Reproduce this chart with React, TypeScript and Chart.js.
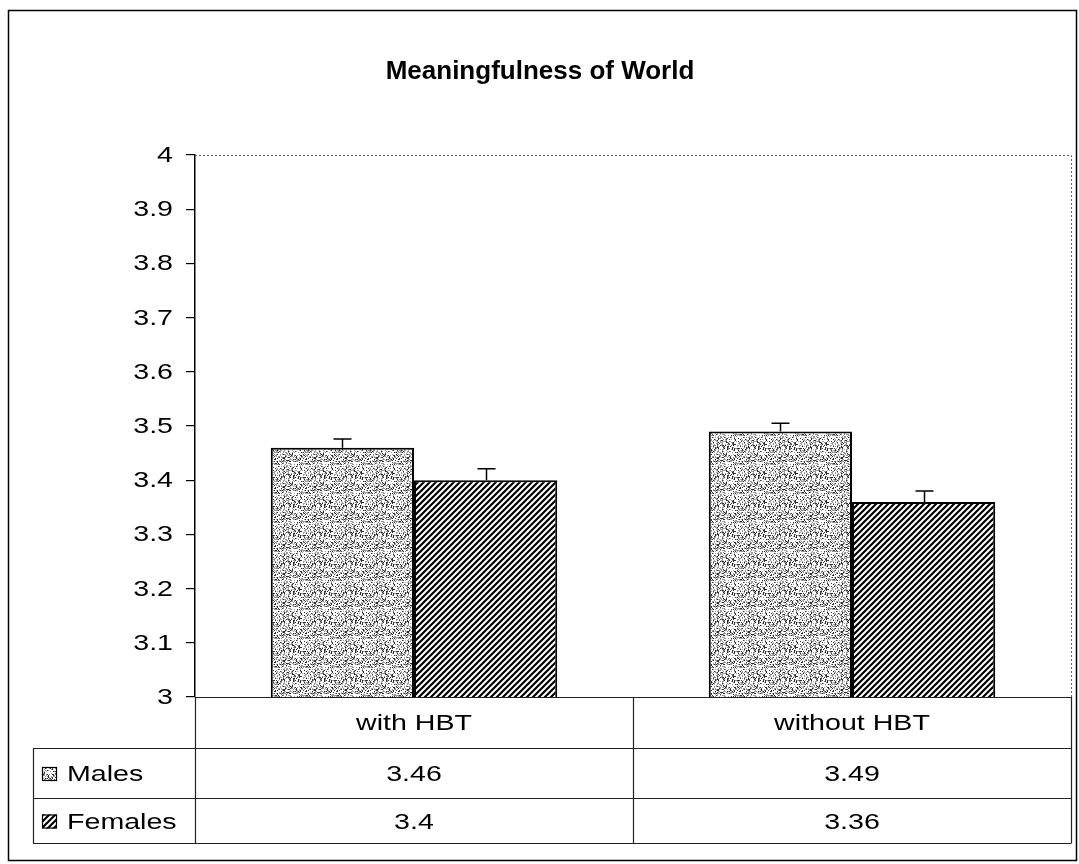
import React, { useEffect, useRef } from "react";
import { Chart, registerables } from "chart.js";

Chart.register(...registerables);

const chartTitle = "Meaningfulness of World";
const categories = ["with HBT", "without HBT"];
const seriesLabels = ["Males", "Females"];
const malesValues = [3.46, 3.49];
const femalesValues = [3.4, 3.36];
const malesErrors = [0.016, 0.015];
const femalesErrors = [0.021, 0.02];
const malesTableLabels = ["3.46", "3.49"];
const femalesTableLabels = ["3.4", "3.36"];
const yMin = 3;
const yMax = 4;
const yStep = 0.1;

const FONT = "Arial, 'Liberation Sans', sans-serif";
const TEXT_SIZE = 22;
const TEXT_STRETCH = 1.3;

function makeStipple(): CanvasPattern | string {
  const w = 31;
  const h = 29;
  const c = document.createElement("canvas");
  c.width = w;
  c.height = h;
  const g = c.getContext("2d");
  if (!g) return "#c0c0c0";
  g.fillStyle = "#ffffff";
  g.fillRect(0, 0, w, h);
  for (let y = 0; y < h; y++) {
    for (let x = 0; x < w; x++) {
      let k = (x * 374761393 + y * 668265263) | 0;
      k = Math.imul(k ^ (k >>> 13), 1274126177);
      k = (k ^ (k >>> 16)) >>> 0;
      const r = k % 100;
      if (r < 15) {
        g.fillStyle = "#303030";
        g.fillRect(x, y, 1, 1);
      } else if (r < 40) {
        g.fillStyle = "#9a9a9a";
        g.fillRect(x, y, 1, 1);
      }
    }
  }
  return g.createPattern(c, "repeat") || "#c0c0c0";
}

function makeHatch(): CanvasPattern | string {
  const s = 6;
  const c = document.createElement("canvas");
  c.width = s;
  c.height = s;
  const g = c.getContext("2d");
  if (!g) return "#777";
  g.fillStyle = "#ffffff";
  g.fillRect(0, 0, s, s);
  g.strokeStyle = "#000000";
  g.lineWidth = 2.2;
  g.beginPath();
  g.moveTo(-1, s + 1);
  g.lineTo(s + 1, -1);
  g.moveTo(-s / 2 - 1, s / 2 + 1);
  g.lineTo(s / 2 + 1, -s / 2 - 1);
  g.moveTo(s / 2 - 1, s * 1.5 + 1);
  g.lineTo(s * 1.5 + 1, s / 2 - 1);
  g.stroke();
  return g.createPattern(c, "repeat") || "#777";
}

function stretchedText(
  ctx: CanvasRenderingContext2D,
  text: string,
  x: number,
  y: number,
  align: CanvasTextAlign
) {
  ctx.save();
  ctx.translate(x, y);
  ctx.scale(TEXT_STRETCH, 1);
  ctx.textAlign = align;
  ctx.textBaseline = "middle";
  ctx.fillText(text, 0, 0);
  ctx.restore();
}

function fmtTick(v: number): string {
  const s = v.toFixed(1);
  return s.endsWith(".0") ? String(Math.round(v)) : s;
}

export default function App() {
  const ref = useRef<HTMLCanvasElement | null>(null);

  useEffect(() => {
    const canvas = ref.current;
    if (!canvas) return;
    const stipple = makeStipple();
    const hatch = makeHatch();
    const fills = [stipple, hatch];
    const errors = [malesErrors, femalesErrors];
    const tableLabels = [malesTableLabels, femalesTableLabels];

    const decor = {
      id: "decor",
      afterDraw(chart: any) {
        const ctx = chart.ctx as CanvasRenderingContext2D;
        const area = chart.chartArea;
        const ys = chart.scales.y;
        const xs = chart.scales.x;
        ctx.save();

        // outer frame
        ctx.strokeStyle = "#000";
        ctx.lineWidth = 1.5;
        ctx.strokeRect(8.5, 10.5, 1068, 850);

        // title
        ctx.fillStyle = "#000";
        ctx.font = `bold 26px ${FONT}`;
        ctx.textAlign = "center";
        ctx.textBaseline = "middle";
        ctx.fillText(chartTitle, 540, 72);

        // y tick labels
        ctx.font = `${TEXT_SIZE}px ${FONT}`;
        ys.ticks.forEach((t: any) => {
          const y = ys.getPixelForValue(t.value);
          stretchedText(ctx, fmtTick(Number(t.value)), 173, y + 1, "right");
        });

        // plot area dotted top / right border
        ctx.strokeStyle = "#666";
        ctx.lineWidth = 1;
        ctx.setLineDash([2, 2]);
        ctx.beginPath();
        ctx.moveTo(area.left, area.top + 0.5);
        ctx.lineTo(area.right + 0.5, area.top + 0.5);
        ctx.lineTo(area.right + 0.5, area.bottom);
        ctx.stroke();
        ctx.setLineDash([]);

        // error bars
        ctx.strokeStyle = "#000";
        ctx.lineWidth = 1.5;
        for (let d = 0; d < 2; d++) {
          const meta = chart.getDatasetMeta(d);
          meta.data.forEach((bar: any, i: number) => {
            const v = chart.data.datasets[d].data[i] as number;
            const yTop = ys.getPixelForValue(v + errors[d][i]);
            const x = Math.round(bar.x) + 0.5;
            ctx.beginPath();
            ctx.moveTo(x, bar.y);
            ctx.lineTo(x, yTop);
            ctx.moveTo(x - 9, yTop);
            ctx.lineTo(x + 9, yTop);
            ctx.stroke();
          });
        }

        // data table
        const tLeft = 33;
        const r0 = area.bottom;
        const r1 = r0 + 51;
        const r2 = r1 + 50;
        const r3 = r2 + 45;
        const mid = (area.left + area.right) / 2;
        ctx.strokeStyle = "#222";
        ctx.lineWidth = 1.2;
        ctx.beginPath();
        ctx.moveTo(area.left, r0 + 0.5);
        ctx.lineTo(area.right, r0 + 0.5);
        [r1, r2, r3].forEach((r) => {
          ctx.moveTo(tLeft, r + 0.5);
          ctx.lineTo(area.right + 0.5, r + 0.5);
        });
        ctx.moveTo(area.left + 0.5, r0);
        ctx.lineTo(area.left + 0.5, r3);
        ctx.moveTo(Math.round(mid) + 0.5, r0);
        ctx.lineTo(Math.round(mid) + 0.5, r3);
        ctx.moveTo(area.right + 0.5, r0);
        ctx.lineTo(area.right + 0.5, r3);
        ctx.moveTo(tLeft + 0.5, r1);
        ctx.lineTo(tLeft + 0.5, r3);
        ctx.stroke();

        ctx.fillStyle = "#000";
        ctx.font = `${TEXT_SIZE}px ${FONT}`;
        categories.forEach((c, i) => {
          const x = xs.getPixelForValue(i);
          stretchedText(ctx, c, x, (r0 + r1) / 2 + 1, "center");
          stretchedText(ctx, tableLabels[0][i], x, (r1 + r2) / 2 + 2, "center");
          stretchedText(ctx, tableLabels[1][i], x, (r2 + r3) / 2 + 2, "center");
        });
        const rowMids = [(r1 + r2) / 2, (r2 + r3) / 2];
        seriesLabels.forEach((s, d) => {
          const ym = rowMids[d] + 1;
          ctx.fillStyle = fills[d] as any;
          ctx.fillRect(42, ym - 7, 15, 14);
          ctx.strokeStyle = "#000";
          ctx.lineWidth = 1.2;
          ctx.strokeRect(42.5, ym - 6.5, 14, 13);
          ctx.fillStyle = "#000";
          stretchedText(ctx, s, 67, ym + 1, "left");
        });

        ctx.restore();
      },
    };

    const chart = new Chart(canvas, {
      type: "bar",
      data: {
        labels: categories,
        datasets: [
          {
            label: seriesLabels[0],
            data: malesValues,
            backgroundColor: stipple as any,
            borderColor: "#000",
            borderWidth: 2,
            categoryPercentage: 0.654,
            barPercentage: 1,
          },
          {
            label: seriesLabels[1],
            data: femalesValues,
            backgroundColor: hatch as any,
            borderColor: "#000",
            borderWidth: 2,
            categoryPercentage: 0.654,
            barPercentage: 1,
          },
        ],
      },
      options: {
        responsive: false,
        animation: false,
        devicePixelRatio: 1,
        layout: { padding: { left: 0, top: 155, right: 8, bottom: 167 } },
        plugins: {
          legend: { display: false },
          title: { display: false },
          tooltip: { enabled: false },
        },
        scales: {
          x: {
            display: false,
            offset: true,
          },
          y: {
            min: yMin,
            max: yMax,
            afterFit: (scale: any) => {
              scale.width = 195;
            },
            ticks: {
              stepSize: yStep,
              color: "rgba(0,0,0,0)",
              font: { family: FONT, size: TEXT_SIZE },
              padding: 10,
              callback: (v: any) => fmtTick(Number(v)),
            },
            grid: {
              drawOnChartArea: false,
              drawTicks: true,
              tickLength: 9,
              color: "#000",
              lineWidth: 1.2,
            },
            border: { display: true, color: "#000", width: 1.5 },
          },
        },
      },
      plugins: [decor],
    });

    return () => chart.destroy();
  }, []);

  return (
    <div style={{ position: "absolute", left: 0, top: 0, width: 1079, height: 864, background: "#fff" }}>
      <canvas ref={ref} width={1079} height={864} style={{ display: "block" }} />
    </div>
  );
}
